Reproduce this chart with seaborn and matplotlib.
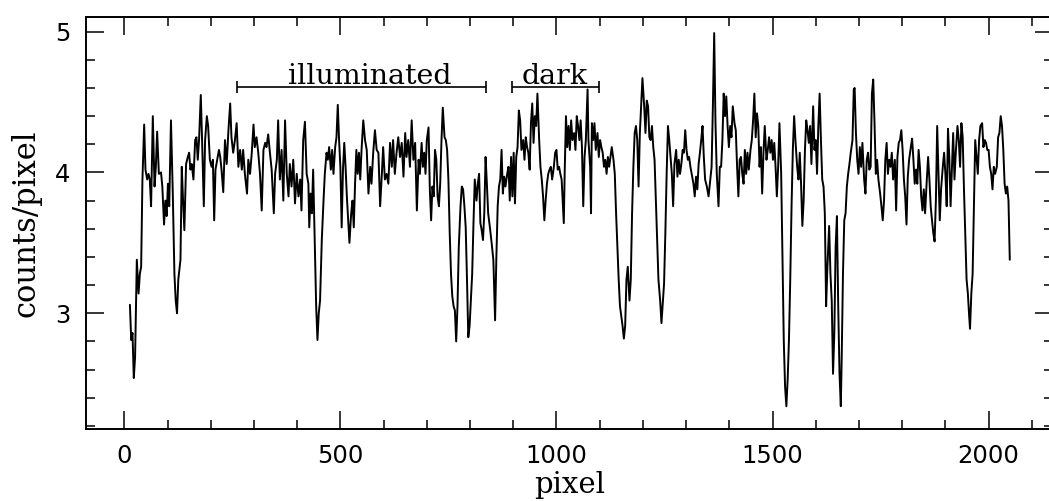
import matplotlib
matplotlib.use("Agg")
import matplotlib.pyplot as plt
import seaborn as sns
import numpy as np
from matplotlib.ticker import MultipleLocator

pixel = [13, 16, 19, 22, 25, 29, 33, 36, 39, 42, 46, 49, 53, 56, 59, 62, 66, 70, 73, 76, 80, 85, 88, 92, 95, 98,
         101, 104, 108, 112, 116, 119, 122, 125, 130, 133, 136, 139, 143, 147, 150, 153, 156, 160, 164, 167, 170,
         173, 177, 180, 184, 187, 191, 194, 198, 202, 205, 208, 211, 215, 219, 222, 225, 229, 233, 237, 241, 245,
         248, 252, 256, 260, 264, 268, 272, 275, 279, 284, 287, 291, 295, 299, 302, 306, 310, 314, 318, 322, 326,
         329, 333, 337, 341, 346,
         349, 353, 356, 360, 364, 368, 372, 376, 380, 383, 387, 391, 395, 399, 403, 407, 410, 414, 418, 422, 426,
         428, 431, 434, 437, 441, 444, 447, 450, 453, 457, 461, 464, 468, 471, 474, 478, 481, 484, 488, 491, 494,
         497, 500, 503, 506, 509, 512, 515, 518, 521, 525, 528, 531, 534, 537, 540, 543, 546, 549, 553, 557, 561,
         565, 569, 572, 576, 580, 584, 588, 592, 596, 599, 603, 607, 611, 615, 619, 622, 626, 630, 634, 638, 642,
         646, 650, 653, 657, 661, 665, 669, 673, 677, 681,
         684, 688, 691, 694, 697, 700, 704, 707, 710, 713, 716, 719, 722, 725, 728, 731, 734, 737, 741, 744, 747,
         750, 753, 756, 759, 762, 765, 768, 771, 774, 778, 781, 784, 787, 790, 793, 796, 799, 802, 805, 808, 811,
         815, 818, 821, 824, 827, 830, 833, 836, 839, 842, 846, 850, 854, 858, 861, 864, 867, 870, 873, 876, 879,
         882, 886, 889, 892, 895, 898, 901, 904, 907, 910, 913, 916, 919, 923, 926, 929, 932, 935, 938, 941, 944,
         947, 950, 953, 956, 960, 963, 966, 969, 972, 975, 978, 981, 984, 987, 990, 994, 997, 1000, 1003, 1006,
         1009, 1012, 1017,
         1019, 1022, 1025, 1028, 1031, 1034, 1037, 1041, 1044, 1047, 1050, 1053, 1056, 1059, 1062, 1065, 1068,
         1072, 1074, 1078, 1080, 1082, 1085, 1088, 1091, 1095, 1098, 1101, 1104, 1107, 1110, 1113, 1116, 1119,
         1122, 1125, 1128, 1132, 1135, 1138, 1141, 1144, 1147, 1150, 1153, 1156, 1159, 1162, 1165, 1169, 1172,
         1175, 1178, 1181, 1184, 1187, 1190, 1193, 1196, 1199, 1203, 1206, 1209, 1212, 1215, 1218, 1221, 1224,
         1227, 1230, 1233, 1236, 1240, 1243, 1246, 1249, 1252, 1255, 1258, 1261, 1264, 1267, 1270, 1273, 1277,
         1280, 1283, 1286, 1289, 1292, 1295, 1298, 1301, 1304, 1307, 1310, 1314, 1317, 1320, 1323, 1326, 1329,
         1332, 1335, 1338, 1341, 1344, 1348, 1352,
         1355, 1359, 1362, 1365, 1368, 1371, 1375, 1378, 1381, 1384, 1387, 1390, 1393, 1396, 1399, 1402, 1405,
         1408, 1412, 1415, 1418, 1421, 1424, 1427, 1430, 1433, 1436, 1439, 1442, 1445, 1449, 1452, 1455, 1458,
         1461, 1464, 1467, 1470, 1473, 1476, 1479, 1482, 1486, 1489, 1492, 1495, 1498, 1501, 1504, 1507, 1510,
         1513, 1516, 1520, 1523, 1526, 1529, 1532, 1535, 1538, 1541, 1544, 1547, 1550, 1553, 1557, 1560, 1563,
         1566, 1569, 1572, 1575, 1578, 1581, 1584, 1587, 1590, 1594, 1597, 1600, 1603, 1606, 1609, 1612, 1615,
         1618, 1621, 1624, 1627, 1631, 1634, 1637, 1640, 1643, 1646, 1649, 1652, 1655, 1658, 1660, 1663, 1666,
         1669, 1672, 1675, 1678, 1681, 1685, 1688,
         1690, 1693, 1696, 1699, 1702, 1705, 1708, 1712, 1715, 1718, 1721, 1724, 1727, 1730, 1733, 1736, 1739,
         1742, 1745, 1749, 1752, 1755, 1758, 1761, 1764, 1767, 1770, 1773, 1776, 1779, 1783, 1786, 1789, 1792,
         1795, 1798, 1801, 1804, 1807, 1810, 1813, 1816, 1820, 1823, 1826, 1829, 1832, 1835, 1838, 1841, 1844,
         1847, 1850, 1853, 1857, 1860, 1863, 1866, 1869, 1872, 1875, 1878, 1881, 1884, 1887, 1890, 1894, 1897,
         1900, 1903, 1906, 1909, 1912, 1915, 1918, 1921, 1924, 1928, 1931, 1934, 1937, 1940, 1943, 1946, 1949,
         1952, 1955, 1957, 1960, 1963, 1966, 1969, 1972, 1975, 1978, 1981, 1985, 1988, 1991, 1994, 1997, 2000,
         2003, 2006, 2009, 2012, 2015, 2019, 2022, 2025, 2028, 2031, 2034, 2037, 2040, 2043, 2046, 2049]

counts = [3.06, 2.81, 2.86, 2.54, 2.69, 3.38, 3.14, 3.28, 3.33, 3.95, 4.34, 4.02, 3.95, 3.99, 3.95, 3.76, 4.40,
          3.90, 4.04, 4.29, 3.99, 4.00, 3.90, 3.63, 3.80, 3.69, 3.92, 3.76, 4.37, 3.88, 3.28, 3.09, 3.00, 3.24,
          3.38, 4.04, 3.80, 3.59, 4.06, 4.11, 4.14, 4.02, 4.06, 3.95, 4.23, 4.25, 4.09, 4.23, 4.55, 4.23, 3.76,
          4.23, 4.40, 4.33, 4.09, 4.04, 4.09, 3.66, 4.02, 4.09, 4.16, 4.11, 4.02, 3.86, 4.23, 4.06, 4.30, 4.49,
          4.25, 4.14, 4.23, 4.35, 4.04, 4.16, 4.02, 4.16, 3.99, 3.85, 4.09, 3.99, 4.14, 4.34, 4.18, 4.25, 4.14,
          3.99, 3.73, 4.16, 4.21, 4.18, 4.27, 4.14, 4.02, 3.71,
          3.99, 4.09, 4.37, 3.95, 4.16, 3.80, 4.37, 3.99, 3.83, 4.06, 3.90, 4.09, 3.78, 3.99, 3.83, 3.95, 3.73,
          4.23, 4.36, 3.99, 3.92, 3.61, 3.85, 3.71, 4.02, 3.47, 3.05, 2.81, 3.00, 3.09, 3.52, 3.80, 3.99, 4.14,
          4.09, 4.18, 4.02, 4.16, 3.99, 4.18, 4.25, 4.48, 4.23, 4.04, 3.61, 4.02, 4.21, 4.04, 3.83, 3.66, 3.50,
          3.71, 3.80, 3.61, 3.92, 4.16, 3.99, 4.14, 3.95, 4.16, 4.37, 4.23, 4.16, 3.85, 4.04, 3.92, 4.14, 4.30,
          4.16, 4.14, 3.76, 3.99, 4.18, 3.95, 3.99, 3.92, 4.21, 4.04, 4.23, 3.99, 4.14, 4.25, 4.11, 4.21, 3.97,
          4.28, 4.11, 4.23, 4.04, 4.37, 4.09, 4.21, 3.73, 4.09,
          3.99, 4.21, 4.04, 4.14, 3.99, 4.23, 4.32, 3.88, 3.66, 3.90, 3.83, 4.16, 4.09, 3.83, 3.76, 3.92, 4.23,
          4.46, 4.25, 4.23, 4.16, 3.95, 3.57, 3.28, 3.12, 3.05, 3.02, 2.80, 3.05, 3.47, 3.76, 3.90, 3.88, 3.76,
          3.61, 3.24, 2.83, 2.91, 3.09, 3.28, 3.64, 3.95, 3.80, 3.92, 3.99, 3.64, 3.59, 3.52, 3.71, 4.11, 3.92,
          3.71, 3.61, 3.50, 3.38, 2.95, 3.40, 3.76, 3.90, 3.95, 4.16, 3.85, 3.97, 3.90, 3.99, 4.04, 3.80, 4.11,
          3.83, 4.14, 3.78, 4.11, 4.18, 4.44, 4.37, 4.16, 4.23, 4.09, 4.25, 4.18, 4.14, 4.02, 4.35, 4.49, 4.21,
          4.40, 4.33, 4.56, 4.23, 4.04, 3.95, 3.83, 3.66, 3.80, 3.92, 3.99, 4.02, 4.04, 3.95, 4.04, 4.14, 4.16,
          4.02, 4.04, 3.99, 3.95, 3.64,
          3.99, 4.40, 4.18, 4.33, 4.16, 4.37, 4.23, 4.28, 4.16, 4.40, 4.33, 4.23, 4.37, 4.18, 3.76, 4.11, 4.23,
          4.59, 4.23, 4.04, 3.71, 4.35, 4.23, 4.35, 4.16, 4.28, 4.11, 4.23, 4.18, 4.14, 4.04, 4.09, 3.99, 4.11,
          4.04, 4.11, 4.18, 4.09, 3.99, 3.71, 3.47, 3.24, 3.05, 2.98, 2.91, 2.82, 2.91, 3.24, 3.33, 3.09, 3.24,
          3.71, 4.04, 4.28, 4.33, 4.23, 3.90, 4.28, 4.47, 4.67, 4.47, 4.28, 4.51, 4.47, 4.25, 4.23, 4.33, 4.18,
          4.09, 3.80, 3.52, 3.24, 3.09, 2.93, 3.07, 3.21, 3.57, 3.99, 4.33, 4.23, 4.11, 3.99, 3.76, 4.06, 4.16,
          3.97, 4.09, 3.99, 4.06, 4.16, 4.14, 4.30, 4.16, 4.09, 4.11, 4.04, 3.97, 3.92, 3.83, 3.97, 3.88, 4.06,
          4.14, 4.23, 4.33, 4.11, 3.95, 3.90, 3.83,
          3.92, 4.04, 4.47, 4.99, 4.35, 3.99, 3.76, 4.04, 4.04, 4.23, 4.56, 4.40, 4.54, 4.33, 4.18, 4.33, 4.25,
          4.47, 4.35, 4.30, 4.04, 3.83, 4.09, 4.11, 3.99, 3.92, 4.16, 3.99, 4.14, 4.02, 4.16, 4.23, 4.37, 4.56,
          4.25, 4.42, 4.33, 4.04, 4.18, 3.85, 4.14, 4.33, 4.09, 4.16, 4.25, 4.14, 4.23, 4.09, 4.21, 4.04, 3.83,
          4.04, 4.35, 3.99, 3.40, 2.81, 2.48, 2.34, 2.53, 2.81, 3.24, 3.76, 4.16, 4.40, 4.23, 4.04, 3.95, 4.14,
          3.92, 3.62, 3.80, 4.16, 4.37, 4.30, 4.21, 4.33, 4.06, 4.47, 4.16, 4.23, 3.99, 4.33, 4.56, 4.23, 3.95,
          3.90, 3.71, 3.05, 3.33, 3.62, 3.28, 3.09, 2.57, 2.86, 3.47, 3.69, 3.05, 2.57, 2.34, 2.67, 3.28, 3.66,
          3.71, 3.90, 3.99, 4.06, 4.14, 4.23, 4.59,
          4.60, 4.28, 4.09, 3.99, 4.18, 4.04, 4.21, 3.95, 3.85, 4.09, 4.14, 4.02, 4.04, 4.56, 4.66, 4.35, 3.99,
          4.09, 3.95, 3.85, 3.76, 3.66, 3.80, 4.09, 4.21, 3.99, 4.09, 4.04, 4.14, 3.95, 4.09, 3.73, 4.11, 4.21,
          4.23, 4.30, 4.16, 3.95, 3.83, 3.63, 3.97, 4.09, 4.18, 4.24, 4.09, 3.92, 4.02, 3.92, 4.16, 4.04, 3.83,
          3.73, 3.88, 3.71, 3.95, 4.11, 3.95, 3.76, 3.66, 3.57, 3.51, 3.80, 4.33, 3.99, 3.66, 3.88, 4.04, 4.14,
          3.99, 3.76, 4.31, 4.11, 3.76, 4.02, 4.28, 3.95, 4.14, 4.33, 4.23, 4.04, 4.35, 4.25, 3.88, 3.57, 3.24,
          3.14, 2.98, 2.89, 3.14, 3.28, 3.76, 4.23, 4.11, 3.99, 4.23, 4.33, 4.35, 4.18, 4.23, 4.21, 4.16, 4.16,
          4.04, 3.99, 3.88, 4.04, 3.99, 4.04, 4.25, 4.28, 4.40, 4.33, 4.16, 3.92, 3.85, 3.90, 3.80, 3.38]

band_labels = ["illuminated", "dark"]
band_start = [260, 898]
band_end = [836, 1099]
band_level = 4.605

sns.set_style("ticks")
plt.rcParams["font.family"] = ["DejaVu Serif", "DejaVu Sans"]
plt.rcParams["text.color"] = "black"
plt.rcParams["axes.labelcolor"] = "black"
plt.rcParams["xtick.color"] = "black"
plt.rcParams["ytick.color"] = "black"

fig = plt.figure(figsize=(10.49, 5.01), dpi=100)
ax = fig.add_axes([86 / 1049, 72 / 501, 967 / 1049, 412 / 501])

sns.lineplot(x=pixel, y=counts, ax=ax, color="black", linewidth=1.4,
             estimator=None, sort=False)

for lab, s, e in zip(band_labels, band_start, band_end):
    c = (s + e) / 2
    ax.errorbar([c], [band_level], xerr=[(e - s) / 2], fmt="none",
                ecolor="black", elinewidth=1.2, capsize=4, capthick=1.2)
ax.text(568, 4.625, band_labels[0], ha="center", va="baseline", fontsize=20.5, color="black")
ax.text(995, 4.625, band_labels[1], ha="center", va="baseline", fontsize=20.5, color="black")

ax.set_xlim(-88.6, 2149)
ax.set_ylim(2.178, 5.104)
ax.xaxis.set_major_locator(MultipleLocator(500))
ax.xaxis.set_minor_locator(MultipleLocator(100))
ax.yaxis.set_major_locator(MultipleLocator(1))
ax.yaxis.set_minor_locator(MultipleLocator(0.2))
ax.tick_params(which="both", direction="in", top=True, right=True, color="black", width=1.1,
               labelcolor="black")
ax.tick_params(which="major", length=13, labelsize=17.5, pad=11)
ax.tick_params(which="minor", length=6.5)
for lbl in ax.get_xticklabels() + ax.get_yticklabels():
    lbl.set_family("DejaVu Sans")
for sp in ax.spines.values():
    sp.set_linewidth(1.4)
    sp.set_color("black")
ax.spines["right"].set_visible(False)

ax.set_xlabel("pixel", fontsize=21, va="center", color="black")
ax.xaxis.set_label_coords(0.5, -0.136)
ax.set_ylabel("counts/pixel", fontsize=22, va="center", color="black")
ax.yaxis.set_label_coords(-0.062, 0.5)

fig.savefig("out.png", dpi=100)
